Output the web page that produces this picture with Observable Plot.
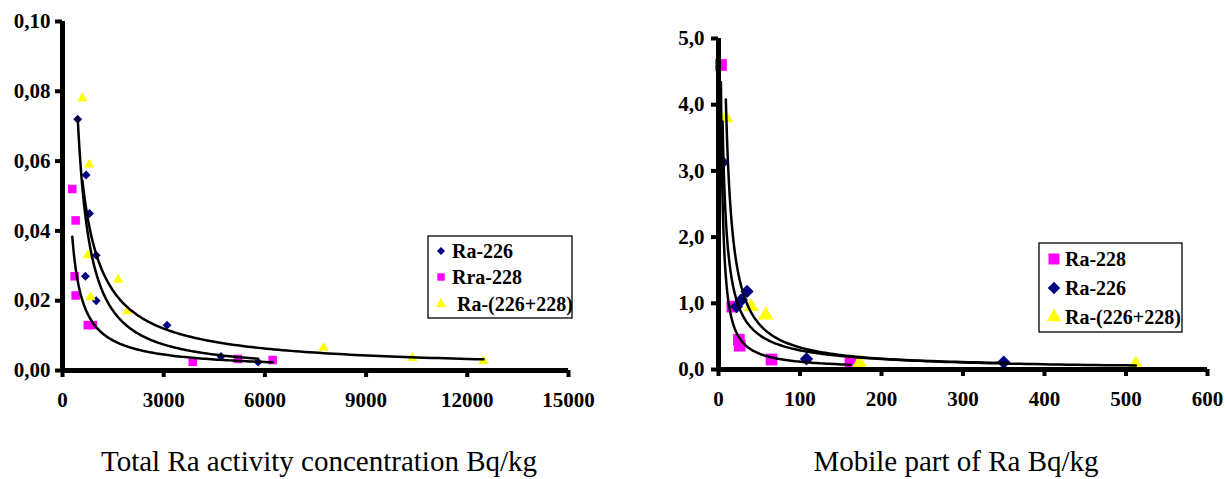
<!DOCTYPE html>
<html>
<head>
<meta charset="utf-8">
<script src="https://cdn.jsdelivr.net/npm/d3@7"></script>
<script src="https://cdn.jsdelivr.net/npm/@observablehq/plot@0.6"></script>
<style>
  html, body { margin: 0; padding: 0; background: #fff; }
  #wrap { position: relative; width: 1225px; height: 479px; overflow: hidden; background: #fff; font-family: 'Liberation Serif', serif; }
  #wrap svg, #wrap svg text { font-family: 'Liberation Serif', serif !important; }
  #wrap svg text.bold { font-weight: 700 !important; }
  .chart { position: absolute; top: 0; }
  .title { position: absolute; font-family: 'Liberation Serif', serif; font-size: 29px; color: #000; white-space: nowrap; transform: translateX(-50%); }
  .legend { position: absolute; }
</style>
</head>
<body>
<div id="wrap"></div>
<script>
// ---------- Data ----------
// Left panel: Total Ra activity concentration (Bq/kg)
const ra226LeftX = [450, 700, 800, 1000, 680, 1000, 3100, 4700, 5800];
const ra226LeftY = [0.072, 0.056, 0.045, 0.033, 0.027, 0.020, 0.013, 0.004, 0.0024];
const ra228LeftX = [290, 390, 360, 390, 750, 900, 3860, 5200, 6230];
const ra228LeftY = [0.052, 0.043, 0.027, 0.0215, 0.013, 0.013, 0.0025, 0.0033, 0.003];
const raSumLeftX = [590, 790, 750, 830, 1650, 1920, 7740, 10370, 12480];
const raSumLeftY = [0.078, 0.059, 0.033, 0.021, 0.026, 0.017, 0.0065, 0.0036, 0.0027];

// Right panel: Mobile part of Ra (Bq/kg)
const ra228RightX = [3, 17, 25, 26, 65, 162];
const ra228RightY = [4.6, 0.95, 0.45, 0.36, 0.15, 0.09];
const ra226RightX = [5, 22, 28, 35, 108, 350];
const ra226RightY = [3.13, 0.95, 1.05, 1.18, 0.16, 0.11];
const raSumRightX = [9, 40, 58, 173, 512];
const raSumRightY = [3.8, 0.95, 0.82, 0.10, 0.08];

// Ticks and labels
const leftXTicks = [0, 3000, 6000, 9000, 12000, 15000];
const leftYTicks = [0, 0.02, 0.04, 0.06, 0.08, 0.10];
const rightXTicks = [0, 100, 200, 300, 400, 500, 600];
const rightYTicks = [0, 1, 2, 3, 4, 5];
const leftTitle = "Total Ra activity concentration Bq/kg";
const rightTitle = "Mobile part of Ra Bq/kg";
const leftLegend = ["Ra-226", "Rra-228", "Ra-(226+228)"];
const rightLegend = ["Ra-228", "Ra-226", "Ra-(226+228)"];

// Colours
const NAVY = "#000080", MAGENTA = "#FF00FF", YELLOW = "#FFFF00";

// ---------- helpers ----------
const zip = (xs, ys) => xs.map((x, i) => ({x, y: ys[i]}));
// power-law trendline (least squares in log-log space), as a spreadsheet draws it
function powerTrend(xs, ys) {
  const lx = xs.map(Math.log), ly = ys.map(Math.log);
  const mx = d3.mean(lx), my = d3.mean(ly);
  const b = d3.sum(lx, (v, i) => (v - mx) * (ly[i] - my)) / d3.sum(lx, v => (v - mx) ** 2);
  const a = Math.exp(my - b * mx);
  const [x0, x1] = d3.extent(xs);
  return d3.range(161).map(i => {
    const x = x0 * Math.pow(x1 / x0, i / 160);
    return {x, y: a * Math.pow(x, b)};
  });
}

function serifBold(sel) {
  sel.attr("class", "bold").attr("fill", "#000")
     .style("font-family", "'Liberation Serif', serif")
     .style("font-weight", "700");
}

function panel({width, marginLeft, marginRight, marginTop, plotH, xDomain, yDomain, xTicks, yTicks, yFmt, yPad, series}) {
  const marks = [
    Plot.axisX({ticks: xTicks, tickSize: 7, tickPadding: 15, strokeWidth: 4, tickFormat: d => String(d), fontSize: 21}),
    Plot.axisY({ticks: yTicks, tickSize: 7, tickPadding: yPad, strokeWidth: 4, tickFormat: yFmt, fontSize: 21}),
  ];
  for (const s of series) {
    marks.push(Plot.dot(zip(s.xs, s.ys), {x: "x", y: "y", symbol: s.symbol, r: s.r, fill: s.color, stroke: "none"}));
  }
  for (const s of series) {
    marks.push(Plot.line(powerTrend(s.xs, s.ys), {x: "x", y: "y", stroke: "#000", strokeWidth: 2.5, clip: true}));
  }
  marks.push(Plot.ruleY([0], {stroke: "#000", strokeWidth: 5}));
  marks.push(Plot.ruleX([0], {stroke: "#000", strokeWidth: 5}));
  const svg = Plot.plot({
    width, height: marginTop + plotH + 50,
    marginLeft, marginRight, marginTop, marginBottom: 50,
    x: {domain: xDomain, label: null},
    y: {domain: yDomain, label: null},
    style: {fontSize: "21px", color: "#000", background: "transparent", overflow: "visible"},
    marks
  });
  svg.removeAttribute("font-family");
  serifBold(d3.select(svg).selectAll("text"));
  return svg;
}

function legend(items, {w, h, rows, symX, textX}) {
  const svg = d3.create("svg").attr("width", w + 2).attr("height", h + 2);
  svg.append("rect").attr("x", 1).attr("y", 1).attr("width", w).attr("height", h)
    .attr("fill", "#fff").attr("stroke", "#000").attr("stroke-width", 1.3);
  items.forEach((it, i) => {
    svg.append("path")
      .attr("d", d3.symbol(it.type, Math.PI * it.r * it.r)())
      .attr("transform", `translate(${symX},${rows[i]})`)
      .attr("fill", it.color);
    const t = svg.append("text")
      .attr("x", textX[i]).attr("y", rows[i] + 7)
      .attr("font-size", 20)
      .text(it.label);
    serifBold(t);
  });
  return svg.node();
}

const wrap = document.getElementById("wrap");

// ---------- Left panel ----------
const left = panel({
  width: 610, marginLeft: 62, marginRight: 42, marginTop: 21, plotH: 349,
  xDomain: [0, 15000], yDomain: [0, 0.1], xTicks: leftXTicks, yTicks: leftYTicks,
  yFmt: d => d.toFixed(2).replace(".", ","), yPad: 5,
  series: [
    {xs: ra226LeftX, ys: ra226LeftY, symbol: "diamond2", r: 4, color: NAVY},
    {xs: ra228LeftX, ys: ra228LeftY, symbol: "square", r: 4.8, color: MAGENTA},
    {xs: raSumLeftX, ys: raSumLeftY, symbol: "triangle", r: 3.8, color: YELLOW},
  ]
});
left.classList.add("chart");
left.style.left = "0px";
wrap.appendChild(left);

// ---------- Right panel ----------
const right = panel({
  width: 585, marginLeft: 78, marginRight: 18, marginTop: 38, plotH: 331,
  xDomain: [0, 600], yDomain: [0, 5], xTicks: rightXTicks, yTicks: rightYTicks,
  yFmt: d => d.toFixed(1).replace(".", ","), yPad: 7,
  series: [
    {xs: ra228RightX, ys: ra228RightY, symbol: "square", r: 6.6, color: MAGENTA},
    {xs: ra226RightX, ys: ra226RightY, symbol: "diamond2", r: 6, color: NAVY},
    {xs: raSumRightX, ys: raSumRightY, symbol: "triangle", r: 5.6, color: YELLOW},
  ]
});
right.classList.add("chart");
right.style.left = "640px";
wrap.appendChild(right);

// ---------- Legends ----------
const lg1 = legend([
  {type: d3.symbolDiamond2, r: 3.6, color: NAVY, label: leftLegend[0]},
  {type: d3.symbolSquare, r: 4.2, color: MAGENTA, label: leftLegend[1]},
  {type: d3.symbolTriangle, r: 3.8, color: YELLOW, label: leftLegend[2]},
], {w: 144, h: 82, rows: [16, 42, 69], symX: 14, textX: [25, 25, 30]});
lg1.classList.add("legend");
lg1.style.left = "427px"; lg1.style.top = "235px";
wrap.appendChild(lg1);

const lg2 = legend([
  {type: d3.symbolSquare, r: 6.2, color: MAGENTA, label: rightLegend[0]},
  {type: d3.symbolDiamond2, r: 5.6, color: NAVY, label: rightLegend[1]},
  {type: d3.symbolTriangle, r: 5.4, color: YELLOW, label: rightLegend[2]},
], {w: 143, h: 89, rows: [17, 46, 75], symX: 16, textX: [27, 27, 27]});
lg2.classList.add("legend");
lg2.style.left = "1038px"; lg2.style.top = "242px";
wrap.appendChild(lg2);

// ---------- Titles ----------
for (const [txt, cx] of [[leftTitle, 319], [rightTitle, 956]]) {
  const d = document.createElement("div");
  d.className = "title";
  d.textContent = txt;
  d.style.left = cx + "px";
  d.style.top = "445px";
  wrap.appendChild(d);
}
</script>
</body>
</html>
